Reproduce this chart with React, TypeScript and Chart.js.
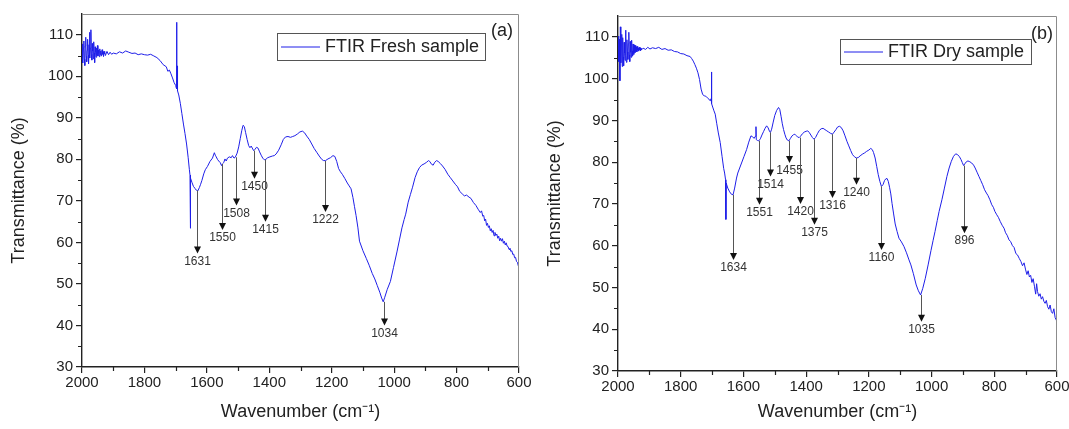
import React, { useEffect, useRef } from 'react';
import { Chart, registerables } from 'chart.js';
Chart.register(...registerables);

// ---------- Panel (a): FTIR Fresh sample ----------
const wavenumberA = [
  2000, 1998.5, 1997, 1995.5, 1994, 1992.5, 1991, 1989.5, 1988, 1986.5, 1985, 1983.5, 1982, 1980.5, 1979, 1977.5, 1976,
  1974.5, 1973, 1971.5, 1970, 1968.5, 1967, 1965.5, 1964, 1962.5, 1961, 1959.5, 1958, 1956.5, 1955, 1953.5, 1952, 1950.5,
  1949, 1947.5, 1946, 1944.5, 1943, 1941.5, 1940, 1938.5, 1937, 1935.5, 1934, 1932.5, 1931, 1929.5, 1928, 1926.5, 1925,
  1920, 1915, 1910, 1905, 1900, 1890, 1880, 1870, 1860, 1850, 1840, 1830, 1820, 1810,
  1800, 1790, 1780, 1770, 1760, 1750, 1740, 1730, 1725, 1720, 1715, 1710, 1705, 1700, 1698, 1697, 1696, 1695, 1694, 1690,
  1685, 1680, 1675, 1670, 1665, 1660, 1656, 1654, 1653, 1652, 1648, 1643, 1638, 1634, 1629, 1624, 1620, 1616, 1610, 1605,
  1598, 1590, 1582, 1576, 1573, 1570, 1566, 1562, 1557, 1553, 1550, 1546, 1542, 1538, 1534, 1528, 1522, 1518, 1513, 1509,
  1503, 1498, 1493, 1488, 1484, 1480, 1476, 1471, 1466, 1462, 1458, 1453, 1450, 1446, 1441, 1436, 1431, 1426, 1421, 1416,
  1411, 1405, 1398, 1390, 1384, 1378, 1370, 1362, 1355, 1348, 1340, 1332, 1325, 1318, 1310, 1302, 1294, 1287, 1280, 1272,
  1264, 1256, 1248, 1240, 1232, 1226, 1220, 1212, 1204, 1196, 1190, 1184, 1178, 1172, 1166, 1158, 1150, 1144, 1138, 1132,
  1127, 1122, 1116, 1111, 1100, 1089, 1080, 1070, 1062, 1054, 1046, 1040, 1035, 1030, 1022, 1012, 1002, 991, 983, 975,
  968, 963, 955, 948, 941, 933, 926, 919, 912, 904, 896, 890, 886, 880, 875, 870, 864, 859, 852, 845,
  837, 828, 820, 812, 804, 797, 790, 782, 775, 768, 760, 754, 746, 738, 731,
  724, 720, 716, 713, 710, 707, 704, 701, 698, 695, 692, 689, 686, 683, 680, 677, 674, 671, 668, 665,
  662, 659, 656, 653, 650, 647, 644, 641, 638, 635, 632, 629, 626, 623, 620, 617, 614, 611, 608, 605, 602, 600,
];
const transmittanceA = [
  105.5, 107.8, 103.2, 106.9, 108.5, 104.1, 102.6, 107.3, 109.4, 104.8, 103.5, 106.2, 108.9, 105.1, 103.0, 107.6, 110.6,
  104.4, 106.8, 111.2, 105.3, 103.9, 107.9, 106.1, 104.2, 108.3, 105.6, 103.3, 107.1, 105.9, 104.6, 106.8, 105.0, 107.4,
  104.9, 106.3, 105.5, 104.7, 106.6, 105.2, 106.1, 104.9, 105.8, 106.4, 105.3, 105.9, 104.8, 106.0, 105.4, 105.7, 105.0,
  106, 105.2, 105.8, 105.3, 105.6, 105.4, 105.9, 105.6, 106.1, 105.8, 105.5, 105.6, 105.2, 105.4,
  105.2, 105.1, 105.3, 104.9, 104.5, 103.8, 102.8, 102.3, 101.2, 101.5, 100.6, 99.6, 98.5, 97.8, 97.2, 113, 97, 102.5, 96.5, 95.5,
  93.5, 91, 88.5, 86.2, 83.7, 80.5, 77.5, 76.2, 63.4, 75.5, 74.5, 73.5, 73, 72.6, 72.4, 73.2, 74, 74.9, 76.5, 77.5,
  78.3, 79.5, 80.3, 81.6, 81, 80.6, 80, 79.6, 79.2, 78.5, 78.9, 79.2, 80.1, 79.6, 80.3, 80.6, 80.4, 80.9, 80.3, 80.5,
  81.5, 83, 85, 87, 88.2, 87.9, 86.5, 84.8, 83.3, 82.8, 83.2, 82.5, 82.1, 82.4, 82.9, 82.7, 81.8, 81, 80.3, 79.9,
  80, 80.4, 80.6, 80.8, 80.9, 81.3, 82.2, 83.5, 84.8, 85.4, 85.5, 85.3, 85.5, 85.7, 86.1, 86.6, 86.8, 86.4, 85.6, 84.8,
  83.7, 82.6, 81.7, 80.8, 80, 79.7, 79.7, 80.1, 80.4, 80.9, 80.7, 79.5, 77.8, 77, 76.4, 75.4, 74.3, 73.6, 72.9, 70.8,
  68.6, 66.5, 63.5, 60.3, 58, 56.1, 54.5, 52.5, 51.2, 49.6, 48, 46.6, 45.7, 46.8, 48.7, 50.6, 54, 57.7, 60.6, 63.5,
  65.5, 66.8, 69.7, 71.5, 73.3, 75.6, 77, 78, 78.6, 78.9, 79.3, 79.7, 79.5, 78.8, 78.6, 79.3, 79.7, 79.5, 79, 78.4,
  77.6, 76.4, 75.6, 74.8, 74, 73.4, 72.3, 71.7, 71.2, 71.4, 70.9, 70.6, 69.6, 68.9, 68,
  67.2, 67.6, 66.3, 66.5, 65.2, 65.6, 64.1, 64.6, 63.6, 64.0, 62.8, 63.3, 62.4, 62.9, 61.6, 62.4, 61.7, 62.0, 61.0, 61.5,
  60.4, 61.0, 60.3, 60.9, 59.8, 60.3, 59.4, 59.9, 59.1, 59.0, 58.3, 58.6, 57.8, 58.0, 57.1, 57.2, 56.3, 56.4, 55.4, 55.2, 54.3, 53.9,
];
const peaksA = [1631, 1550, 1508, 1450, 1415, 1222, 1034];
const arrowFromA = [72.5, 78.9, 80.5, 82.1, 79.9, 79.6, 45.7];
const arrowToA = [57.3, 63, 68.9, 75.3, 65, 67.3, 40];

// ---------- Panel (b): FTIR Dry sample ----------
const wavenumberB = [
  2000, 1998.5, 1997, 1995.5, 1994, 1992.5, 1991, 1989.5, 1988, 1986.5, 1985, 1983.5, 1982, 1980.5, 1979, 1977.5, 1976,
  1974.5, 1973, 1971.5, 1970, 1968.5, 1967, 1965.5, 1964, 1962.5, 1961, 1959.5, 1958, 1956.5, 1955, 1953.5, 1952, 1950.5,
  1949, 1947.5, 1946, 1944.5, 1943, 1941.5, 1940, 1938.5, 1937, 1935.5, 1934, 1932.5, 1931, 1929.5, 1928, 1926.5, 1925,
  1920, 1912, 1905, 1898, 1890, 1880, 1870, 1860, 1850, 1840, 1830, 1820, 1810,
  1800, 1790, 1780, 1770, 1765, 1760, 1755, 1750, 1745, 1740, 1735, 1730, 1725, 1720, 1715, 1710, 1706, 1703, 1702, 1701,
  1698, 1694, 1690, 1685, 1680, 1674, 1668, 1663, 1660, 1657, 1656, 1655, 1650, 1644, 1638, 1633, 1628, 1622, 1618, 1612,
  1606, 1598, 1590, 1583, 1576, 1571, 1566, 1562, 1560, 1559, 1555, 1551, 1546, 1541, 1536, 1531, 1526, 1521, 1517, 1514,
  1510, 1505, 1500, 1494, 1488, 1484, 1480, 1476, 1472, 1468, 1464, 1460, 1455, 1450, 1445, 1440, 1436, 1432, 1427, 1422,
  1418, 1412, 1406, 1400, 1395, 1390, 1385, 1380, 1375, 1370, 1364, 1358, 1352, 1346, 1340, 1334, 1328, 1322, 1316, 1311,
  1305, 1300, 1294, 1288, 1282, 1276, 1270, 1264, 1258, 1252, 1246, 1240, 1234, 1228, 1221, 1214, 1207, 1200, 1194, 1189,
  1185, 1180, 1175, 1170, 1165, 1160, 1155, 1150, 1146, 1142, 1138, 1134, 1130, 1126, 1121, 1116, 1110, 1104, 1096, 1088,
  1080, 1072, 1066, 1058, 1049, 1042, 1035, 1028, 1020, 1011, 1002, 995, 989, 982, 976, 967, 959, 951, 944, 937,
  930, 923, 917, 911, 906, 902, 898, 894, 889, 884, 878, 872, 866, 861, 855, 849, 843, 837, 831, 825,
  820, 814, 808, 803, 798, 792, 787, 781, 775, 769, 764, 759, 753, 748, 742, 737, 731, 726, 720, 715,
  710, 705, 700, 696, 692, 688, 684, 680, 676, 672, 668, 665, 662, 658, 654, 650, 646, 642, 638, 634,
  630, 626, 622, 618, 614, 610, 606, 603, 600,
];
const transmittanceB = [
  107, 110.2, 104.1, 109.4, 99.5, 112.4, 103.8, 108.1, 110.6, 102.9, 109.8, 105.2, 103.1, 108.7, 106.1, 104.4, 111.6,
  105.5, 103.9, 109.3, 106.4, 104.6, 108.4, 111.1, 105.7, 104.1, 108.9, 106.3, 105.1, 109.2, 106.6, 105.4, 108.3, 106.9,
  105.8, 108.0, 106.2, 107.9, 106.5, 107.6, 106.4, 107.7, 106.8, 107.3, 106.6, 107.5, 106.9, 107.4, 106.7, 107.2, 106.9,
  107.3, 107, 107.5, 107.1, 107.4, 107.2, 107.5, 107, 107.2, 106.8, 106.9, 106.5, 106.4,
  106, 105.9, 105.5, 105.3, 104.8, 104.2, 103.4, 102.5, 101.4, 99.8, 97.5, 96.2, 95.9, 95.8, 95.4, 95.1, 94.7, 95.2, 101.6, 94,
  93.2, 92.3, 91.5, 89.2, 87, 84.7, 81.3, 78.5, 77.4, 75.8, 66.3, 75, 73.8, 72.9, 72.3, 72.2, 73.8, 76.2, 77.4, 78.6,
  79.8, 81.4, 83, 84.8, 86.3, 86.1, 85.7, 86.2, 88.5, 85.4, 85.2, 85.1, 85.6, 86.5, 87.3, 88.1, 88.7, 88.2, 87.4, 87.1,
  87.9, 89.6, 91.2, 92.4, 93.1, 92.6, 91, 89.2, 87.8, 86.7, 85.8, 85.3, 85.1, 85.7, 86.3, 86.6, 86.7, 86.4, 86, 85.9,
  86.2, 86.8, 87.2, 87.4, 87.5, 87.1, 86.5, 85.9, 85.5, 85.9, 86.8, 87.6, 88, 88.1, 87.8, 87.5, 87.2, 86.9, 86.7, 87.2,
  87.8, 88.4, 88.6, 88.3, 87.5, 86.3, 85, 83.9, 82.8, 81.8, 81.3, 81, 81.1, 81.5, 81.9, 82.2, 82.6, 82.9, 83.3, 83,
  82.3, 81, 79, 77, 75.4, 74.2, 74.6, 75.6, 76, 76.1, 75.4, 74, 72.4, 70.1, 67.6, 65.2, 63.4, 61.8, 60.9, 59.8,
  58.3, 56.6, 55.4, 53.3, 50.6, 49.2, 48.2, 49.8, 52.2, 55.4, 58.8, 61.3, 63.4, 66, 68.2, 71, 73.8, 76.6, 78.6, 80.2,
  81.4, 82, 81.8, 81.3, 80.6, 79.9, 79.2, 79.6, 80.1, 80.3, 80.1, 79.8, 79.3, 78.6, 77.6, 76.6, 75.6, 74.6, 73.4, 72.6,
  72, 71, 69.8, 69.2, 68.2, 67.4, 66.8, 65.8, 64.9, 64.2, 63.1, 62.5, 61.4, 61, 60, 59.6, 58.1, 57.8, 56.9, 56.2,
  55.2, 55.9, 54.2, 53.1, 54, 52.5, 52.9, 51.2, 52.1, 50.3, 48.4, 50.9, 49, 47.9, 48.5, 47.2, 47.8, 46.7, 46.2, 46.9,
  45.4, 44.8, 45.8, 44.2, 43.8, 44.9, 42.8, 42.3, 41.8,
];
const peaksB = [1634, 1551, 1514, 1455, 1420, 1375, 1316, 1240, 1160, 1035, 896];
const arrowFromB = [72.2, 85.1, 87.1, 85.1, 85.9, 85.5, 86.7, 81, 74.2, 48.2, 79.2];
const arrowToB = [56.6, 69.8, 76.6, 79.8, 70.0, 65.0, 71.4, 74.6, 59, 41.8, 63];

const xTicks = [600, 800, 1000, 1200, 1400, 1600, 1800, 2000];
const FONT = "'Liberation Sans', Arial, Helvetica, sans-serif";
const LINE_BLUE = 'rgb(30,30,232)';

type PanelCfg = {
  wn: number[];
  tr: number[];
  peaks: number[];
  from: number[];
  to: number[];
  legend: string;
  tag: string;
  padTop: number;
  padRight: number;
  yWidth: number;
  xHeight: number;
  yTitlePad: number;
  legendBox: [number, number, number, number];
  tagPos: [number, number];
};

function buildChart(canvas: HTMLCanvasElement, p: PanelCfg) {
  const overlay = {
    id: 'overlay',
    afterDraw(chart: any) {
      const { ctx, chartArea } = chart;
      const xs = chart.scales.x;
      const ys = chart.scales.y;
      ctx.save();
      // top & right frame
      ctx.strokeStyle = '#8c8c8c';
      ctx.lineWidth = 1;
      ctx.beginPath();
      ctx.moveTo(chartArea.left, chartArea.top + 0.5);
      ctx.lineTo(chartArea.right - 0.5, chartArea.top + 0.5);
      ctx.lineTo(chartArea.right - 0.5, chartArea.bottom);
      ctx.stroke();
      // minor ticks
      ctx.strokeStyle = '#222';
      ctx.lineWidth = 1.2;
      ctx.beginPath();
      for (let w = 700; w < 2000; w += 200) {
        const px = Math.round(xs.getPixelForValue(w)) + 0.5;
        ctx.moveTo(px, chartArea.bottom);
        ctx.lineTo(px, chartArea.bottom + 4);
      }
      for (let v = 35; v < 115; v += 10) {
        const py = Math.round(ys.getPixelForValue(v)) + 0.5;
        ctx.moveTo(chartArea.left - 4, py);
        ctx.lineTo(chartArea.left, py);
      }
      ctx.stroke();
      // arrows + labels
      ctx.font = `12px ${FONT}`;
      ctx.textAlign = 'center';
      ctx.textBaseline = 'top';
      p.peaks.forEach((w, i) => {
        const x = Math.round(xs.getPixelForValue(w)) + 0.5;
        const y0 = ys.getPixelForValue(p.from[i]);
        const y1 = ys.getPixelForValue(p.to[i]);
        ctx.strokeStyle = '#555';
        ctx.lineWidth = 1;
        ctx.beginPath();
        ctx.moveTo(x, y0);
        ctx.lineTo(x, y1 - 6);
        ctx.stroke();
        ctx.fillStyle = '#111';
        ctx.beginPath();
        ctx.moveTo(x - 3.5, y1 - 7);
        ctx.lineTo(x + 3.5, y1 - 7);
        ctx.lineTo(x, y1);
        ctx.closePath();
        ctx.fill();
        ctx.fillStyle = '#333';
        ctx.fillText(String(w), x, y1 + 2);
      });
      // legend
      const [lx, ly, lw, lh] = p.legendBox;
      ctx.fillStyle = '#fff';
      ctx.fillRect(lx, ly, lw, lh);
      ctx.strokeStyle = '#555';
      ctx.lineWidth = 1;
      ctx.strokeRect(lx + 0.5, ly + 0.5, lw, lh);
      ctx.strokeStyle = LINE_BLUE;
      ctx.beginPath();
      ctx.moveTo(lx + 4, ly + lh / 2 + 0.5);
      ctx.lineTo(lx + 43, ly + lh / 2 + 0.5);
      ctx.stroke();
      ctx.fillStyle = '#222';
      ctx.font = `18px ${FONT}`;
      ctx.textAlign = 'left';
      ctx.textBaseline = 'middle';
      ctx.fillText(p.legend, lx + 48, ly + lh / 2 + 1);
      // panel tag
      ctx.textAlign = 'center';
      ctx.fillText(p.tag, p.tagPos[0], p.tagPos[1]);
      ctx.restore();
    },
  };

  return new Chart(canvas, {
    type: 'line',
    data: {
      datasets: [
        {
          label: p.legend,
          data: p.wn.map((w, i) => ({ x: w, y: p.tr[i] })),
          borderColor: LINE_BLUE,
          borderWidth: 1,
          pointRadius: 0,
          tension: 0,
          fill: false,
        },
      ],
    },
    options: {
      responsive: false,
      animation: false,
      events: [],
      layout: { padding: { left: 0, top: p.padTop, right: p.padRight, bottom: 0 } },
      plugins: { legend: { display: false }, tooltip: { enabled: false } },
      scales: {
        x: {
          type: 'linear',
          min: 600,
          max: 2000,
          reverse: true,
          afterBuildTicks: (s: any) => {
            s.ticks = xTicks.map((v) => ({ value: v }));
          },
          afterFit: (s: any) => {
            s.height = p.xHeight;
            s.paddingLeft = 0;
            s.paddingRight = 0;
          },
          ticks: {
            font: { family: FONT, size: 15 },
            color: '#222',
            padding: 1,
            maxRotation: 0,
            autoSkip: false,
            callback: (v: any) => String(v),
          },
          grid: { drawOnChartArea: false, tickLength: 6, color: '#222', lineWidth: 1.2 },
          border: { color: '#222', width: 1.4 },
          title: {
            display: true,
            text: 'Wavenumber (cm\u207B\u00B9)',
            font: { family: FONT, size: 18 },
            color: '#222',
            padding: { top: 0, bottom: 6 },
          },
        },
        y: {
          type: 'linear',
          min: 30,
          max: 115,
          afterFit: (s: any) => {
            s.width = p.yWidth;
            s.paddingTop = 0;
            s.paddingBottom = 0;
          },
          ticks: {
            stepSize: 10,
            includeBounds: false,
            font: { family: FONT, size: 15 },
            color: '#222',
            padding: 3,
            callback: (v: any) => String(v),
          },
          grid: { drawOnChartArea: false, tickLength: 6, color: '#222', lineWidth: 1.2 },
          border: { color: '#222', width: 1.4 },
          title: {
            display: true,
            text: 'Transmittance (%)',
            font: { family: FONT, size: 18 },
            color: '#222',
            padding: { top: p.yTitlePad, bottom: 0 },
          },
        },
      },
    },
    plugins: [overlay],
  } as any);
}

const panelA: PanelCfg = {
  wn: wavenumberA,
  tr: transmittanceA,
  peaks: peaksA,
  from: arrowFromA,
  to: arrowToA,
  legend: 'FTIR Fresh sample',
  tag: '(a)',
  padTop: 14,
  padRight: 16,
  yWidth: 82,
  xHeight: 62,
  yTitlePad: 8,
  legendBox: [277, 33, 208, 27],
  tagPos: [502, 31],
};

const panelB: PanelCfg = {
  wn: wavenumberB,
  tr: transmittanceB,
  peaks: peaksB,
  from: arrowFromB,
  to: arrowToB,
  legend: 'FTIR Dry sample',
  tag: '(b)',
  padTop: 16,
  padRight: 12,
  yWidth: 83,
  xHeight: 58,
  yTitlePad: 9,
  legendBox: [305, 39, 191, 25],
  tagPos: [507, 34],
};

export default function App() {
  const refA = useRef<HTMLCanvasElement | null>(null);
  const refB = useRef<HTMLCanvasElement | null>(null);
  useEffect(() => {
    const a = buildChart(refA.current!, panelA);
    const b = buildChart(refB.current!, panelB);
    return () => {
      a.destroy();
      b.destroy();
    };
  }, []);
  return (
    <div style={{ position: 'fixed', left: 0, top: 0, width: 1069, height: 429, background: '#fff', overflow: 'hidden' }}>
      <canvas ref={refA} width={535} height={429} style={{ position: 'absolute', left: 0, top: 0, width: 535, height: 429 }} />
      <canvas ref={refB} width={534} height={429} style={{ position: 'absolute', left: 535, top: 0, width: 534, height: 429 }} />
    </div>
  );
}
